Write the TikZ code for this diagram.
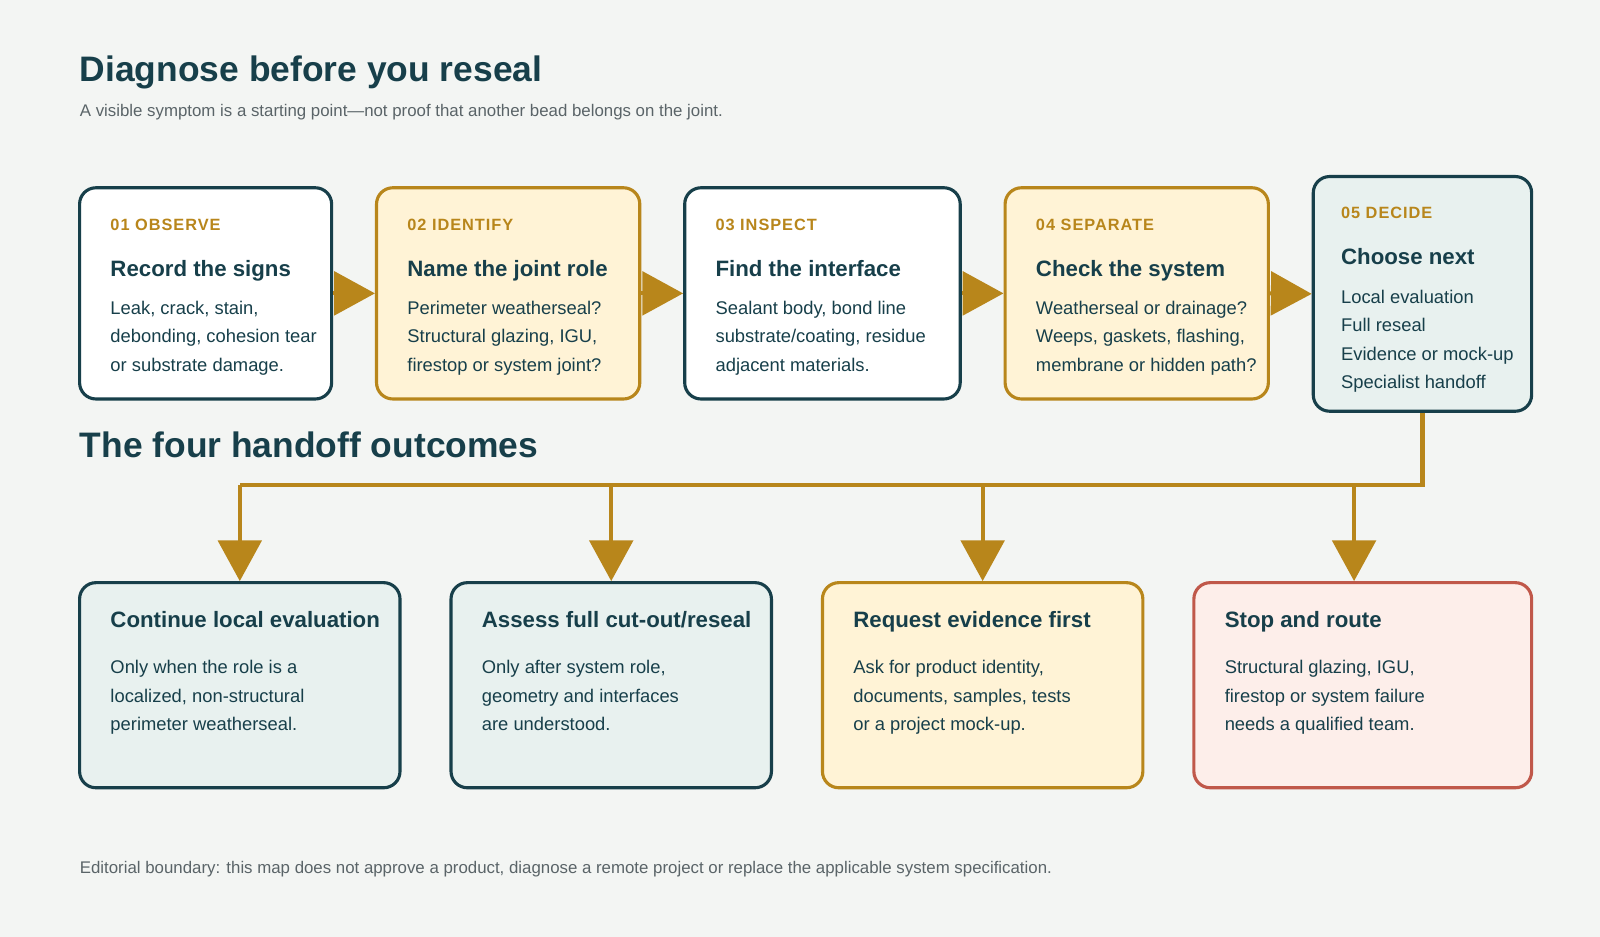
\documentclass[tikz,border=0pt]{standalone}
\usepackage{fontspec}
\setmainfont{Liberation Sans}
\usetikzlibrary{arrows.meta}
\definecolor{bg}{HTML}{F3F5F3}
\definecolor{dk}{HTML}{173F4A}
\definecolor{gd}{HTML}{B8861B}
\definecolor{cr}{HTML}{FFF3D6}
\definecolor{tl}{HTML}{E8F1EF}
\definecolor{rd}{HTML}{C0584A}
\definecolor{pk}{HTML}{FDEEEA}
\definecolor{gy}{HTML}{5A6468}
\newcommand\fs[1]{\fontsize{\the\dimexpr #1pt*3/4\relax}{\the\dimexpr #1pt*9/10\relax}\selectfont}
\newcommand\lab[1]{{\fs{16}\bfseries\addfontfeatures{LetterSpace=6}#1}}
\tikzset{
  box/.style n args={4}{draw=#3,fill=#4,line width=2.3pt,rounded corners=12pt,minimum width={#1*0.75pt},minimum height={#2*0.75pt},inner sep=0pt},
  tx/.style={anchor=base west,inner sep=0pt,text=dk},
  flow/.style={draw=gd,line width=3pt,-{Triangle[length=30pt,width=32pt]}},
  plain/.style={draw=gd,line width=3pt}
}
\begin{document}
\begin{tikzpicture}[x=0.75pt,y=-0.75pt]
\fill[bg] (0,0) rectangle (1568,918);
\useasboundingbox (0,0) rectangle (1568,918);
\node[tx] (t) at (78,80) {\fs{34.7}\bfseries Diagnose before you reseal};
\node[tx,text=gy] (st) at (78,114) {\fs{16.5}A visible symptom is a starting point—not proof that another bead belongs on the joint.};
% top boxes
\node[box={247}{207}{dk}{white}] (b1) at (201.5,287.5) {};
\node[box={258}{207}{gd}{cr}] (b2) at (498,287.5) {};
\node[box={270}{207}{dk}{white}] (b3) at (806,287.5) {};
\node[box={258}{207}{gd}{cr}] (b4) at (1114,287.5) {};
\node[box={214}{230}{dk}{tl}] (b5) at (1394,288) {};
\foreach \n/\x/\l/\h/\a/\b/\c in {
 1/108/01 OBSERVE/Record the signs/{Leak, crack, stain,}/{debonding, cohesion tear}/{or substrate damage.},
 2/399/02 IDENTIFY/Name the joint role/{Perimeter weatherseal?}/{Structural glazing, IGU,}/{firestop or system joint?},
 3/701/03 INSPECT/Find the interface/{Sealant body, bond line}/{substrate/coating, residue}/{adjacent materials.},
 4/1015/04 SEPARATE/Check the system/{Weatherseal or drainage?}/{Weeps, gaskets, flashing,}/{membrane or hidden path?}}{
 \node[tx,text=gd] (l\n) at (\x,226) {\lab{\l}};
 \node[tx] (h\n) at (\x,271) {\fs{21.8}\bfseries \h};
 \node[tx] (p\n a) at (\x,308) {\fs{18}\a};
 \node[tx] (p\n b) at (\x,336) {\fs{18}\b};
 \node[tx] (p\n c) at (\x,364) {\fs{18}\c};
}
\node[tx,text=gd] (l5) at (1314,214) {\lab{05 DECIDE}};
\node[tx] (h5) at (1314,259) {\fs{21.8}\bfseries Choose next};
\node[tx] (p5a) at (1314,297) {\fs{18}Local evaluation};
\node[tx] (p5b) at (1314,325) {\fs{18}Full reseal};
\node[tx] (p5c) at (1314,353) {\fs{18}Evidence or mock-up};
\node[tx] (p5d) at (1314,381) {\fs{18}Specialist handoff};
\draw[flow] (b1.east) -- (b2.west);
\draw[flow] (b2.east) -- (b3.west);
\draw[flow] (b3.east) -- (b4.west);
\draw[flow] (b4.east) -- (b5.west);
\node[tx] (t2) at (78,448) {\fs{34.7}\bfseries The four handoff outcomes};
% bottom boxes
\node[box={314}{201}{dk}{tl}] (o1) at (235,671.5) {};
\node[box={314}{201}{dk}{tl}] (o2) at (599,671.5) {};
\node[box={314}{201}{gd}{cr}] (o3) at (963,671.5) {};
\node[box={331}{201}{rd}{pk}] (o4) at (1335.5,671.5) {};
\foreach \n/\x/\h/\a/\b/\c in {
 1/108/{Continue local evaluation}/{Only when the role is a}/{localized, non-structural}/{perimeter weatherseal.},
 2/472/{Assess full cut-out/reseal}/{Only after system role,}/{geometry and interfaces}/{are understood.},
 3/836/{Request evidence first}/{Ask for product identity,}/{documents, samples, tests}/{or a project mock-up.},
 4/1200/{Stop and route}/{Structural glazing, IGU,}/{firestop or system failure}/{needs a qualified team.}}{
 \node[tx] (g\n) at (\x,615) {\fs{21.8}\bfseries \h};
 \node[tx] (q\n a) at (\x,660) {\fs{18}\a};
 \node[tx] (q\n b) at (\x,688) {\fs{18}\b};
 \node[tx] (q\n c) at (\x,716) {\fs{18}\c};
}
\coordinate (j1) at (235,475);
\coordinate (j4) at (1327,475);
\draw[plain,line join=miter] (b5.south) |- (j1);
\draw[flow] (j1) -- (o1.north);
\draw[flow] (o2.north |- j1) -- (o2.north);
\draw[flow] (o3.north |- j1) -- (o3.north);
\draw[flow] (j4) -- (j4 |- o4.north);
\node[tx,text=gy] (ft) at (78,856) {\fs{16.5}Editorial boundary: this map does not approve a product, diagnose a remote project or replace the applicable system specification.};
\end{tikzpicture}
\end{document}
